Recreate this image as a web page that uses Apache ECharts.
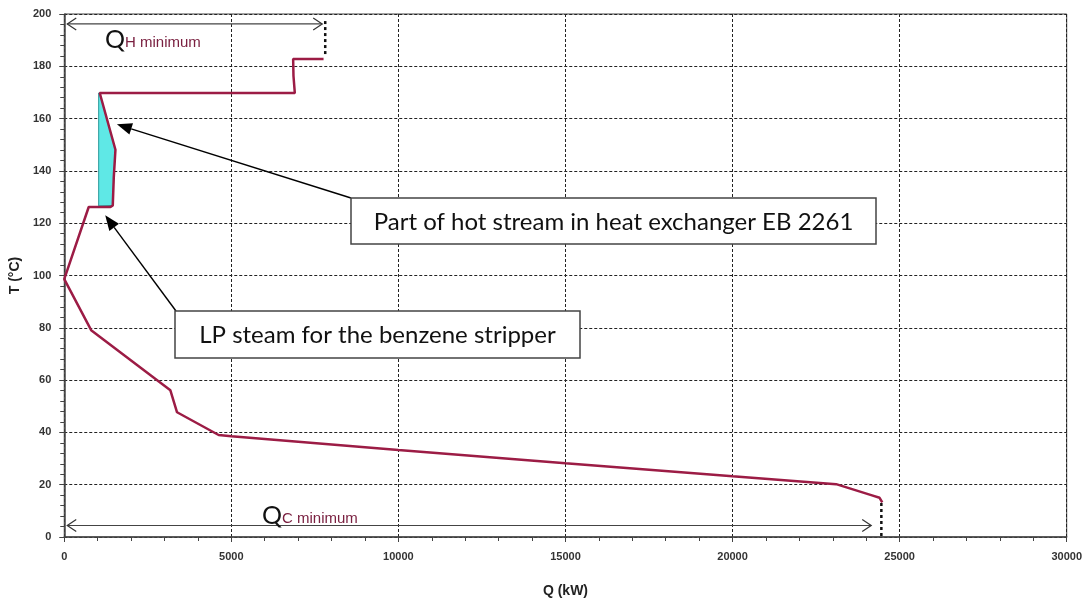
<!DOCTYPE html>
<html>
<head>
<meta charset="utf-8">
<script src="https://cdn.jsdelivr.net/npm/echarts@6/dist/echarts.min.js"></script>
<style>
html, body { margin: 0; padding: 0; background: #fff; }
#chart { width: 1085px; height: 603px; }
</style>
</head>
<body>
<div id="chart"></div>
<script>
// grand composite curve, Q (kW) / T (°C)
var curveQ = [7760, 6850, 6860, 6900, 1062, 1532, 1482, 1452, 1383, 732, 0, 805, 3176, 3376, 4620, 5000, 10000, 15000, 20000, 23100, 24150, 24400, 24480];
var curveT = [182.8, 182.8, 176.3, 169.8, 169.8, 148.1, 137.5, 126.8, 126.2, 126.2, 98.6, 79.1, 56.1, 47.7, 39.0, 38.5, 33.3, 28.2, 23.2, 20.2, 16.0, 15.0, 13.2];

// part of hot stream in heat exchanger EB 2261 (shaded)
var shadeQ = [1030, 1062, 1532, 1482, 1452, 1030];
var shadeT = [169.8, 169.8, 148.1, 137.5, 126.8, 126.6];

// minimum utilities
var qhMin = [0, 7720, 196.2];   // from Q, to Q, at T
var qhDrop = [7810, 197.3, 184.6]; // at Q, from T, to T
var qcMin = [0, 24150, 4.4];
var qcDrop = [24453, 13.0, 0];

// pointer tips of the two notes
var hotTip = [1576, 157.8];
var lpTip = [1226, 123.0];

var lineColor = '#9c1c45';

var chart = echarts.init(document.getElementById('chart'));

var curveData = curveQ.map(function (q, i) { return [q, curveT[i]]; });

var option = {
  animation: false,
  grid: {
    left: 64, right: 18, top: 14, bottom: 58,
    show: true, borderColor: '#444', borderWidth: 1
  },
  xAxis: {
    type: 'value',
    min: 0, max: 30000, interval: 5000,
    name: 'Q (kW)',
    nameLocation: 'middle',
    nameGap: 47,
    nameTextStyle: { fontFamily: 'Liberation Sans', fontWeight: 'bold', fontSize: 14, color: '#222' },
    axisLine: { lineStyle: { color: '#444', width: 1.5 } },
    axisTick: { length: 5, lineStyle: { color: '#444' } },
    minorTick: { show: true, splitNumber: 5, length: 4, lineStyle: { color: '#444' } },
    axisLabel: {
      fontFamily: 'Liberation Sans', fontWeight: 'bold', fontSize: 11, color: '#333', margin: 14,
      formatter: function (v) { return String(v); }
    },
    splitLine: { show: true, lineStyle: { color: '#222', type: [3, 2], width: 1 } }
  },
  yAxis: {
    type: 'value',
    min: 0, max: 200, interval: 20,
    name: 'T (°C)',
    nameLocation: 'middle',
    nameGap: 41,
    nameTextStyle: { fontFamily: 'Liberation Sans', fontWeight: 'bold', fontSize: 14, color: '#222' },
    axisLine: { show: true, lineStyle: { color: '#444', width: 1.5 } },
    axisTick: { show: true, length: 5, lineStyle: { color: '#444' } },
    minorTick: { show: true, splitNumber: 5, length: 4, lineStyle: { color: '#444' } },
    axisLabel: { fontFamily: 'Liberation Sans', fontWeight: 'bold', fontSize: 11, color: '#333', margin: 13 },
    splitLine: { show: true, lineStyle: { color: '#222', type: [3, 2], width: 1 } }
  },
  series: [
    {
      name: 'shade',
      type: 'custom',
      z: 1,
      data: [0],
      renderItem: function (params, api) {
        var pts = shadeQ.map(function (q, i) { return api.coord([q, shadeT[i]]); });
        return {
          type: 'polygon',
          shape: { points: pts },
          style: { fill: '#5fe8e6', stroke: '#2a9a9a', lineWidth: 1 }
        };
      }
    },
    {
      name: 'GCC',
      type: 'line',
      z: 3,
      data: curveData,
      showSymbol: false,
      lineStyle: { color: lineColor, width: 2.5 }
    }
  ]
};
chart.setOption(option);

function px(q, t) { return chart.convertToPixel({ gridIndex: 0 }, [q, t]); }

function openHead(tip, dir) {
  // open "<" arrow head, dir = -1 points left, +1 points right
  return {
    type: 'polyline',
    shape: { points: [[tip[0] - dir * 9, tip[1] - 6], tip, [tip[0] - dir * 9, tip[1] + 6]] },
    style: { stroke: '#333', lineWidth: 1.2, fill: null }
  };
}

function pointer(from, tip) {
  var dx = tip[0] - from[0], dy = tip[1] - from[1];
  var len = Math.sqrt(dx * dx + dy * dy);
  var ux = dx / len, uy = dy / len;
  var bx = tip[0] - ux * 15, by = tip[1] - uy * 15;
  return [
    { type: 'line', shape: { x1: from[0], y1: from[1], x2: bx, y2: by }, style: { stroke: '#000', lineWidth: 1.4 } },
    {
      type: 'polygon',
      shape: { points: [tip, [bx - uy * 6, by + ux * 6], [bx + uy * 6, by - ux * 6]] },
      style: { fill: '#000' }
    }
  ];
}

function noteBox(x, y, w, h, text) {
  return {
    type: 'group', x: x, y: y, z: 10,
    children: [
      { type: 'rect', shape: { x: 0, y: 0, width: w, height: h }, style: { fill: '#fff', stroke: '#444', lineWidth: 1.5 } },
      {
        type: 'text', x: w / 2, y: h / 2 + 1,
        style: { text: text, fontFamily: 'Lato', fontSize: 24, fill: '#111', align: 'center', verticalAlign: 'middle' }
      }
    ]
  };
}

var hA = px(qhMin[0], qhMin[2]), hB = px(qhMin[1], qhMin[2]);
var hD1 = px(qhDrop[0], qhDrop[1]), hD2 = px(qhDrop[0], qhDrop[2]);
var cA = px(qcMin[0], qcMin[2]), cB = px(qcMin[1], qcMin[2]);
var cD1 = px(qcDrop[0], qcDrop[1]), cD2 = px(qcDrop[0], qcDrop[2]);

var elements = [
  { type: 'line', shape: { x1: hA[0] + 3, y1: hA[1], x2: hB[0], y2: hB[1] }, style: { stroke: '#444', lineWidth: 1.2 } },
  openHead([hA[0] + 3, hA[1]], -1),
  openHead(hB, 1),
  { type: 'line', shape: { x1: hD1[0], y1: hD1[1], x2: hD2[0], y2: hD2[1] }, style: { stroke: '#111', lineWidth: 2.5, lineDash: [3, 3] } },
  { type: 'line', shape: { x1: cA[0] + 3, y1: cA[1], x2: cB[0], y2: cB[1] }, style: { stroke: '#444', lineWidth: 1.2 } },
  openHead([cA[0] + 3, cA[1]], -1),
  openHead(cB, 1),
  { type: 'line', shape: { x1: cD1[0], y1: cD1[1], x2: cD2[0], y2: cD2[1] }, style: { stroke: '#111', lineWidth: 2.5, lineDash: [3, 3] } },
  {
    type: 'text', x: 105, y: 52,
    style: {
      text: '{q|Q}{s|H minimum}',
      verticalAlign: 'bottom',
      rich: {
        q: { fontFamily: 'Lato', fontSize: 25, fill: '#111', verticalAlign: 'bottom' },
        s: { fontFamily: 'Liberation Sans', fontSize: 15, fill: '#7a2040', verticalAlign: 'bottom', padding: [0, 0, 2, 0] }
      }
    }
  },
  {
    type: 'text', x: 262, y: 528,
    style: {
      text: '{q|Q}{s|C minimum}',
      verticalAlign: 'bottom',
      rich: {
        q: { fontFamily: 'Lato', fontSize: 25, fill: '#111', verticalAlign: 'bottom' },
        s: { fontFamily: 'Liberation Sans', fontSize: 15, fill: '#7a2040', verticalAlign: 'bottom', padding: [0, 0, 2, 0] }
      }
    }
  }
];

elements = elements.concat(pointer([351, 198], px(hotTip[0], hotTip[1])));
elements = elements.concat(pointer([176, 311], px(lpTip[0], lpTip[1])));
elements.push(noteBox(351, 198, 525, 46, 'Part of hot stream in heat exchanger EB 2261'));
elements.push(noteBox(175, 311, 405, 47, 'LP steam for the benzene stripper'));

chart.setOption({ graphic: { elements: elements } });
</script>
</body>
</html>
